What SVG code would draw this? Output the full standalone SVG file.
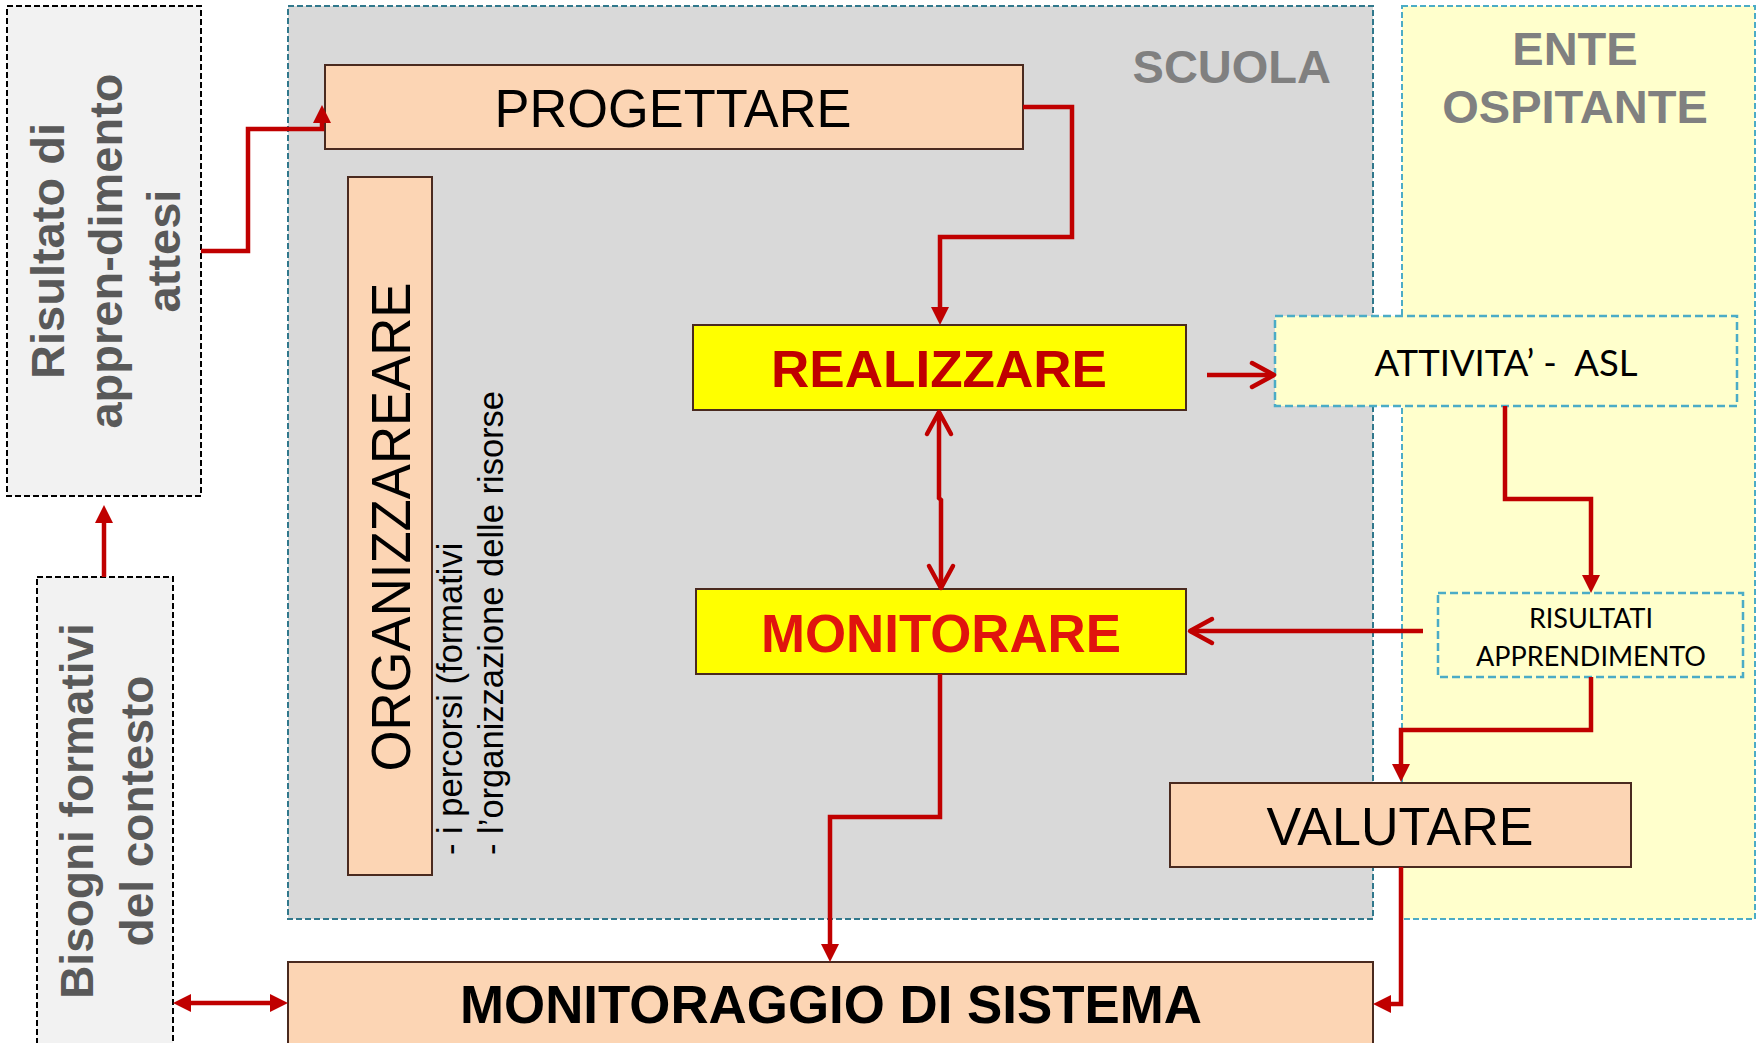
<svg xmlns="http://www.w3.org/2000/svg" width="1758" height="1043" viewBox="0 0 1758 1043">
<style>
.cont{stroke-width:2;stroke-dasharray:6 3}
.ctx{fill:#F2F2F2;stroke:#000;stroke-width:2;stroke-dasharray:6 3}
.ctxt{font-family:"Liberation Sans",Arial,sans-serif;font-weight:bold;fill:#595959;text-anchor:middle}
.peach{fill:#FCD5B4;stroke:#4A2A1F;stroke-width:2}
.yel{fill:#FFFF00;stroke:#4A2A1F;stroke-width:2}
.ente{fill:#FFFFCC;stroke:#4BACC6;stroke-width:2.5;stroke-dasharray:8 4}
.big{font-family:"Liberation Sans",Arial,sans-serif;text-anchor:middle}
.head{font-family:"Liberation Sans",Arial,sans-serif;font-weight:bold;fill:#808080}
.cal{font-family:Lato,"Open Sans",sans-serif;fill:#000;text-anchor:middle}
.conn{fill:none;stroke:#C00000;stroke-width:4.5;stroke-linejoin:miter}
</style>
<defs>
<marker id="fa" viewBox="0 0 18 18" refX="10" refY="9" markerWidth="18" markerHeight="18" markerUnits="userSpaceOnUse" orient="auto-start-reverse">
<path d="M0,0 L18,9 L0,18 z" fill="#C00000"/>
</marker>
<marker id="oa" viewBox="-4 -4 32 32" refX="22" refY="12" markerWidth="32" markerHeight="32" markerUnits="userSpaceOnUse" orient="auto-start-reverse" overflow="visible">
<path d="M0,0 L22,12 L0,24" fill="none" stroke="#C00000" stroke-width="4.5" stroke-linecap="round" stroke-linejoin="round"/>
</marker>
</defs>
<rect width="1758" height="1043" fill="#FFFFFF"/>

<g id="scuola">
<rect class="cont" x="288" y="6" width="1085" height="913" fill="#D9D9D9" stroke="#31788C"/>
<text class="head" x="1331" y="83" font-size="47" text-anchor="end">SCUOLA</text>
</g>
<g id="ente-ospitante">
<rect class="cont" x="1402" y="6" width="353" height="913" fill="#FFFFCC" stroke="#4BACC6"/>
<text class="head" x="1575" y="65" font-size="47" text-anchor="middle">ENTE</text>
<text class="head" x="1575" y="123" font-size="47" text-anchor="middle">OSPITANTE</text>
</g>

<g id="risultato-atteso">
<rect class="ctx" x="7" y="6" width="194" height="490"/>
<g transform="translate(64,251) rotate(-90)">
<text class="ctxt" x="0" y="0" font-size="47">Risultato di</text>
<text class="ctxt" x="0" y="58" font-size="47">appren-dimento</text>
<text class="ctxt" x="0" y="116" font-size="47">attesi</text>
</g>
</g>
<g id="bisogni">
<rect class="ctx" x="37" y="577" width="136" height="480"/>
<g transform="translate(93,811) rotate(-90)">
<text class="ctxt" x="0" y="0" font-size="46">Bisogni formativi</text>
<text class="ctxt" x="0" y="60" font-size="46">del contesto</text>
</g>
</g>

<g id="progettare">
<rect class="peach" x="325" y="65" width="698" height="84"/>
<text class="big" x="673" y="127" font-size="54" textLength="357" lengthAdjust="spacingAndGlyphs">PROGETTARE</text>
</g>
<g id="organizzare">
<rect class="peach" x="348" y="177" width="84" height="698"/>
<text class="big" transform="translate(410,527) rotate(-90)" x="0" y="0" font-size="56" textLength="489" lengthAdjust="spacingAndGlyphs">ORGANIZZAREARE</text>
<g transform="translate(462,855) rotate(-90)" font-family="'Liberation Sans',Arial,sans-serif" font-size="34.5" fill="#000">
<text x="0" y="0">- i percorsi (formativi</text>
<text x="0" y="41">- l’organizzazione delle risorse</text>
</g>
</g>
<g id="realizzare">
<rect class="yel" x="693" y="325" width="493" height="85"/>
<text class="big" x="939" y="387" font-size="52" font-weight="bold" fill="#C00000" textLength="336" lengthAdjust="spacingAndGlyphs">REALIZZARE</text>
</g>
<g id="monitorare">
<rect class="yel" x="696" y="589" width="490" height="85"/>
<text class="big" x="941" y="652" font-size="54" font-weight="bold" fill="#E0140E" textLength="360" lengthAdjust="spacingAndGlyphs">MONITORARE</text>
</g>
<g id="attivita-asl">
<rect class="ente" x="1275" y="316" width="462" height="90"/>
<text class="cal" x="1506" y="376" font-size="36" xml:space="preserve" textLength="263" lengthAdjust="spacingAndGlyphs">ATTIVITA’ -  ASL</text>
</g>
<g id="risultati-apprendimento">
<rect class="ente" x="1438" y="593" width="305" height="84"/>
<text class="cal" x="1591" y="628" font-size="27">RISULTATI</text>
<text class="cal" x="1591" y="666" font-size="27" textLength="230" lengthAdjust="spacingAndGlyphs">APPRENDIMENTO</text>
</g>
<g id="valutare">
<rect class="peach" x="1170" y="783" width="461" height="84"/>
<text class="big" x="1400" y="845" font-size="53" textLength="267" lengthAdjust="spacingAndGlyphs">VALUTARE</text>
</g>
<g id="monitoraggio-di-sistema">
<rect class="peach" x="288" y="962" width="1085" height="100"/>
<text class="big" x="831" y="1023" font-size="53" font-weight="bold" fill="#000" textLength="742" lengthAdjust="spacingAndGlyphs">MONITORAGGIO DI SISTEMA</text>
</g>

<g id="connectors">
<path class="conn" d="M201,251 H248 V129 H322 V113" marker-end="url(#fa)"/>
<path class="conn" d="M1023,107 H1072 V237 H940 V317" marker-end="url(#fa)"/>
<path class="conn" d="M939,412 V498 L941,500 V588" marker-start="url(#oa)" marker-end="url(#oa)"/>
<path class="conn" d="M1207,375 H1274" marker-end="url(#oa)"/>
<path class="conn" d="M1505,406 V499 H1591 V585" marker-end="url(#fa)"/>
<path class="conn" d="M1423,631 H1190" marker-end="url(#oa)"/>
<path class="conn" d="M1591,677 V730 H1401 V774" marker-end="url(#fa)"/>
<path class="conn" d="M1401,867 V1004 H1381" marker-end="url(#fa)"/>
<path class="conn" d="M940,674 V817 H830 V954" marker-end="url(#fa)"/>
<path class="conn" d="M181,1003 H280" marker-start="url(#fa)" marker-end="url(#fa)"/>
<path class="conn" d="M104,577 V513" marker-end="url(#fa)"/>
</g>
</svg>
